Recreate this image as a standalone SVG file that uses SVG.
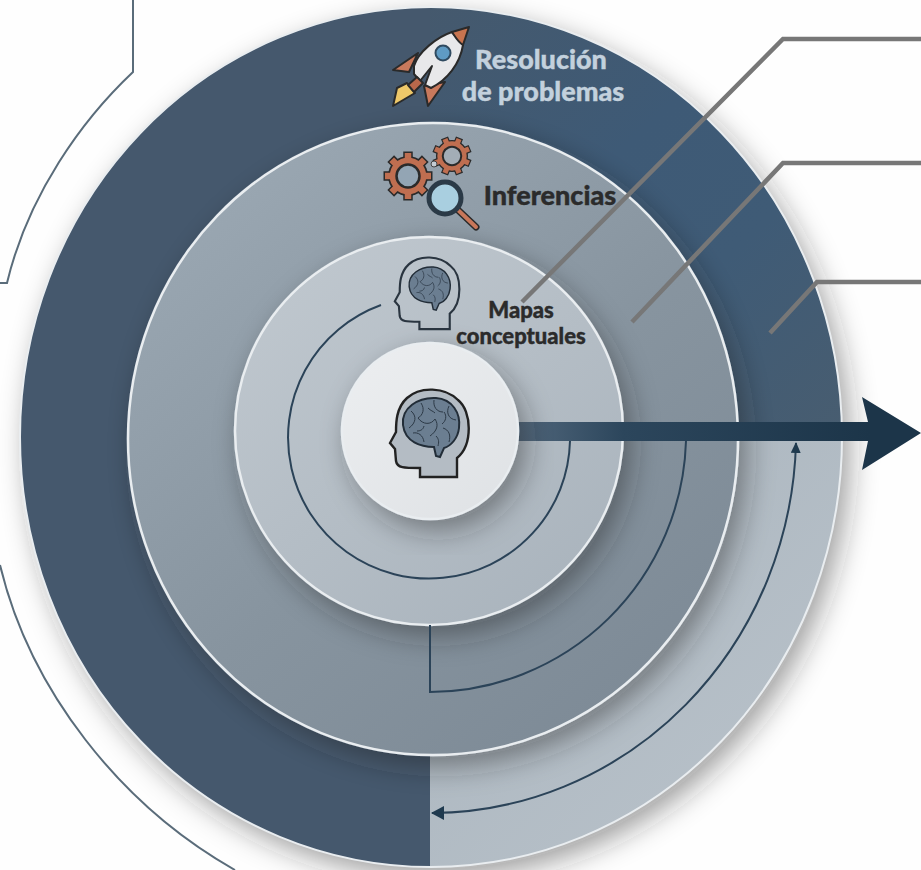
<svg xmlns="http://www.w3.org/2000/svg" xmlns:xlink="http://www.w3.org/1999/xlink" width="921" height="870" viewBox="0 0 921 870">
<style>
.disk{stroke:#e9edf0;stroke-width:2.5}
.curve{fill:none;stroke:#2b4358;stroke-width:2}
.outline{fill:none;stroke:#5a6c7a;stroke-width:2}
.leader{fill:none;stroke:#777;stroke-width:4.5}
.t{font-family:"Lato","Open Sans","Liberation Sans",sans-serif;font-weight:900;text-anchor:middle;stroke-width:.4}
.ico{stroke:#2a2a2a;stroke-width:2;stroke-linejoin:round}
.lobe{fill:none;stroke:#2c3946;stroke-width:1}
</style>
<defs>
<filter id="sh" x="-15%" y="-15%" width="135%" height="135%"><feDropShadow dx="8" dy="11" stdDeviation="14" flood-color="#222" flood-opacity=".42"/></filter>
<clipPath id="cOuter"><ellipse cx="431" cy="437" rx="411" ry="430"/></clipPath>
<linearGradient id="gUR" x1="430" y1="0" x2="840" y2="440" gradientUnits="userSpaceOnUse"><stop offset="0" stop-color="#45596d"/><stop offset=".4" stop-color="#3e5a76"/><stop offset=".65" stop-color="#3f5b76"/><stop offset="1" stop-color="#485d70"/></linearGradient>
<linearGradient id="gLR" x1="430" y1="440" x2="840" y2="860" gradientUnits="userSpaceOnUse"><stop offset="0" stop-color="#a9b4bd"/><stop offset="1" stop-color="#bac3cb"/></linearGradient>
<linearGradient id="g3" x1=".15" y1=".05" x2=".85" y2=".95"><stop offset="0" stop-color="#9ba8b3"/><stop offset=".55" stop-color="#87949f"/><stop offset="1" stop-color="#7d8a96"/></linearGradient>
<linearGradient id="g2" x1=".15" y1=".05" x2=".85" y2=".95"><stop offset="0" stop-color="#bfc7ce"/><stop offset="1" stop-color="#aab4bd"/></linearGradient>
<linearGradient id="g1" x1=".1" y1="0" x2=".9" y2="1"><stop offset="0" stop-color="#eceef0"/><stop offset="1" stop-color="#dfe2e5"/></linearGradient>
<linearGradient id="gBar" x1="518" x2="870" y1="0" y2="0" gradientUnits="userSpaceOnUse"><stop offset="0" stop-color="#51677c"/><stop offset=".3" stop-color="#2c465c"/><stop offset="1" stop-color="#1c3549"/></linearGradient>
<marker id="ah" markerWidth="12" markerHeight="12" refX="10" refY="5" orient="auto" markerUnits="userSpaceOnUse"><path d="M0,0 L11,5 L0,10 Z" fill="#1f3a4f"/></marker>
<g id="brain">
<path d="M403,425 C401,408 418,397 436,398 C452,399 461,413 459,428 C458,438 451,446 444,448 L440,457 L436,456 L434,447 C421,447 405,442 403,425 Z" fill="#6b7e91" stroke="#222d38" stroke-width="2"/>
<path class="lobe" d="M411,411 C417,416 416,423 409,428 M421,403 C425,409 423,415 418,418 M434,400 C433,407 437,412 443,412 M449,406 C446,412 448,419 456,420 M418,418 C423,425 431,425 435,419 M435,419 C439,425 437,431 430,436 M444,412 C447,416 446,421 442,424 M443,428 C449,430 451,435 449,442 M413,433 C418,432 423,435 424,442 M428,408 C431,411 433,411 435,413 M424,426 C423,430 420,431 417,431 M436,436 C439,439 439,442 438,446"/>
</g>
<path id="head" d="M420,477 L457,477 L457,458 C473,445 472,411 458,400 C445,387 420,386 407,398 C396,408 396,423 396,432 L390,443 L395,449 L396,461 C397,468 404,468 420,468 Z"/>
<g id="gear">
<path d="M-24.5,0H24.5 M0,-24.5V24.5 M-17.3,-17.3L17.3,17.3 M-17.3,17.3L17.3,-17.3" stroke="#2a2a2a" stroke-width="9.5" fill="none"/>
<circle r="20" fill="#2a2a2a"/>
<path d="M-23,0H23 M0,-23V23 M-16.3,-16.3L16.3,16.3 M-16.3,16.3L16.3,-16.3" stroke="#bf6e50" stroke-width="6.5" fill="none"/>
<circle r="18.3" fill="#bf6e50"/>
<circle r="11.5" stroke="#2a2a2a" stroke-width="2.5"/>
</g>
</defs>
<rect width="921" height="870" fill="#fefefe"/>

<g id="connectors-outline">
<path class="outline" d="M133,0 L133,72 C82,120 28,195 7,283 L0,283"/>
<path class="outline" d="M0,565 C30,690 120,805 235,870"/>
</g>

<g id="ring-outer">
<ellipse cx="431" cy="437" rx="411" ry="430" fill="#45596d" filter="url(#sh)"/>
<g clip-path="url(#cOuter)">
<rect x="430" y="0" width="420" height="441" fill="url(#gUR)"/>
<rect x="430" y="441" width="420" height="430" fill="url(#gLR)"/>
</g>
<ellipse cx="431" cy="437" rx="411" ry="430" fill="none" stroke="#e9edf0" stroke-width="2"/>
</g>
<g id="ring-third"><ellipse cx="433" cy="439" rx="305" ry="316" fill="url(#g3)" class="disk" filter="url(#sh)"/></g>
<g id="ring-second"><ellipse cx="429" cy="431" rx="194" ry="194" fill="url(#g2)" class="disk" filter="url(#sh)"/></g>

<g id="bar"><path d="M515,422 H868 L862,397 L921,433 L862,470 L868,441 H515 Z" fill="url(#gBar)"/></g>

<g id="ring-center"><circle cx="430" cy="431" r="88" fill="url(#g1)" class="disk" filter="url(#sh)"/>
<use xlink:href="#head" href="#head" fill="#b4bcc4" stroke="#222" stroke-width="2.4"/>
<use xlink:href="#brain" href="#brain"/>
</g>

<g id="connectors">
<path class="curve" d="M381,305 A141,141 0 1 0 570,441"/>
<path class="curve" d="M686,441 A257,259 0 0 1 430,692 L430,625"/>
<path class="curve" d="M432,813 A366,381 0 0 0 796,443" marker-end="url(#ah)"/>
<path d="M431,813 L444,806 L444,820 Z" fill="#1f3a4f"/>
<path class="leader" d="M522,302 L783,39 H921"/>
<path class="leader" d="M632,322 L783,163 H921"/>
<path class="leader" d="M770,333 L817,282 H921"/>
</g>

<g id="node-mapas">
<g transform="translate(75,-62) scale(.82)">
<use xlink:href="#head" href="#head" fill="none" stroke="#2a3540" stroke-width="2.6"/>
</g>
<g transform="translate(115,-23.5) scale(.73)"><use xlink:href="#brain" href="#brain"/></g>
<text class="t" x="521" y="318" font-size="22" fill="#2b2b2b" stroke="#2b2b2b">Mapas</text>
<text class="t" x="521" y="344" font-size="22" fill="#2b2b2b" stroke="#2b2b2b">conceptuales</text>
</g>

<g id="node-inferencias">
<use xlink:href="#gear" href="#gear" transform="translate(408,176)" fill="#93a5b4"/>
<use xlink:href="#gear" href="#gear" transform="translate(452,156) rotate(22.5) scale(.8)" fill="#a3adb6"/>
<circle cx="434" cy="164" r="3" fill="#c4ccd3" stroke="#444" stroke-width="1"/>
<path d="M458,210 L476,227" stroke="#2a2a2a" stroke-width="7" stroke-linecap="round"/>
<path d="M458,210 L476,227" stroke="#c8775a" stroke-width="4" stroke-linecap="round"/>
<circle cx="445" cy="198" r="16" fill="#a9cfe0" stroke="#2b3a47" stroke-width="5"/>
<text class="t" x="550" y="205" font-size="27" fill="#2b2b2b" stroke="#2b2b2b">Inferencias</text>
</g>

<g id="node-resolucion">
<path class="ico" d="M418,53 L393,70 L409,72 Z" fill="#c9795c"/>
<path class="ico" d="M445,82 L428,106 L424,86 Z" fill="#c9795c"/>
<path class="ico" d="M407,83 L397,88 L393,106 L415,93 Z" fill="#eec869"/>
<path class="ico" d="M452,32 C437,37 418,52 414,66 L414,74 L420,81 L432,66 L425,85 L431,88 C447,80 460,64 463,45 Z" fill="#e8e8ea"/>
<path class="ico" d="M469,27 L452,32 C456,38 458,42 463,45 Z" fill="#c8744f"/>
<path class="ico" d="M408,85 L417,77 L423,83 L414,92 Z" fill="#b9684b"/>
<circle cx="443" cy="53" r="7.5" fill="#5f9bc4" stroke="#2f4a60" stroke-width="2"/>
<text class="t" x="541" y="69" font-size="27" fill="#c3d1dd" stroke="#c3d1dd">Resolución</text>
<text class="t" x="543" y="101" font-size="27" fill="#c3d1dd" stroke="#c3d1dd">de problemas</text>
</g>
</svg>
